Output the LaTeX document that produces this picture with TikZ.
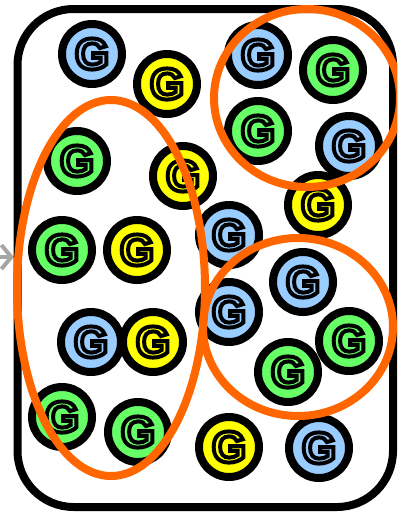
\documentclass[tikz,border=0pt]{standalone}
\usepackage{fontspec}
\usetikzlibrary{arrows.meta}
\newfontfamily\gfont[FakeBold=9]{Liberation Sans Bold}
\definecolor{gblue}{HTML}{99CCFF}
\definecolor{gyellow}{HTML}{FFFF00}
\definecolor{ggreen}{HTML}{66FF66}
\definecolor{gorange}{HTML}{FF6600}
\newcommand{\gletter}[1]{{\color{#1}\special{pdf:literal direct 0 0 0 RG}\gfont\fontsize{44pt}{44pt}\selectfont G}}
\tikzset{
  gnode/.style={circle, draw=black, line width=8pt, minimum size=60pt, inner sep=0pt},
  gb/.style={gnode, fill=gblue},
  gy/.style={gnode, fill=gyellow},
  gg/.style={gnode, fill=ggreen},
  group/.style={draw=gorange, line width=8pt},
}
\begin{document}
\begin{tikzpicture}[x=1pt,y=-1pt]
\useasboundingbox (0,0) rectangle (397,512);
\begin{scope}
\clip (0,0) rectangle (397,512);
% arrow from the left
\coordinate (a0) at (-10,257);
\coordinate (a1) at (14,257);
\draw[black!35, line width=4pt, -{Straight Barb[length=10pt,width=24pt,line width=4pt]}] (a0) -- (a1);
% container
\draw[line width=8pt, rounded corners=56pt] (17.5,9) rectangle (393,507);
% tokens
\node[gb] (c1) at (92,54) {\gletter{gblue}};
\node[gy] (c2) at (167,84) {\gletter{gyellow}};
\node[gg] (c3) at (77,161) {\gletter{ggreen}};
\node[gy] (c4) at (183,176) {\gletter{gyellow}};
\node[gg] (c5) at (62,250) {\gletter{ggreen}};
\node[gy] (c6) at (137,250) {\gletter{gyellow}};
\node[gb] (c7) at (258,55) {\gletter{gblue}};
\node[gg] (c8) at (333,70) {\gletter{ggreen}};
\node[gg] (c9) at (258,131) {\gletter{ggreen}};
\node[gb] (c10) at (349,146) {\gletter{gblue}};
\node[gy] (c11) at (318,205) {\gletter{gyellow}};
\node[gb] (c12) at (229,235) {\gletter{gblue}};
\node[gb] (c13) at (91,342) {\gletter{gblue}};
\node[gy] (c14) at (153,342) {\gletter{gyellow}};
\node[gg] (c15) at (62,417) {\gletter{ggreen}};
\node[gg] (c16) at (138,432) {\gletter{ggreen}};
\node[gb] (c17) at (229,312) {\gletter{gblue}};
\node[gb] (c18) at (303,282) {\gletter{gblue}};
\node[gg] (c19) at (349,341) {\gletter{ggreen}};
\node[gg] (c20) at (288,372) {\gletter{ggreen}};
\node[gy] (c21) at (229,447) {\gletter{gyellow}};
\node[gb] (c22) at (319,448) {\gletter{gblue}};
% groupings
\draw[group] (111,288) ellipse [x radius=94pt, y radius=188pt];
\draw[group] (307,98) ellipse [x radius=93pt, y radius=89pt];
\draw[group] (298,327) ellipse [x radius=95pt, y radius=89pt];
\end{scope}
\end{tikzpicture}
\end{document}
